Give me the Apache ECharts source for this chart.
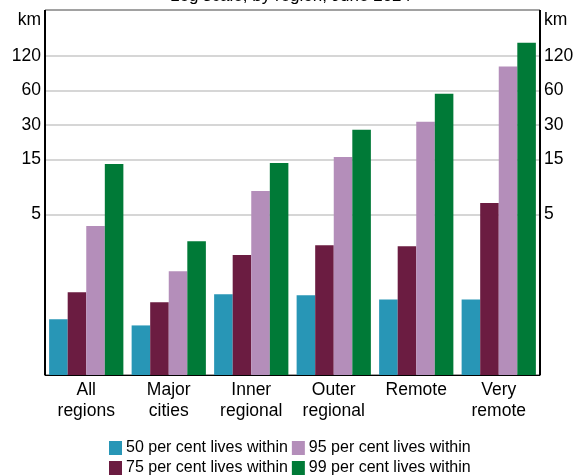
<!DOCTYPE html>
<html>
<head>
<meta charset="utf-8">
<script src="https://cdn.jsdelivr.net/npm/echarts@6/dist/echarts.min.js"></script>
<style>
  html, body { margin: 0; padding: 0; background: #fff; }
  #main { width: 581px; height: 475px; }
</style>
</head>
<body>
<div id="main"></div>
<script>
var regions = ["All\nregions", "Major\ncities", "Inner\nregional", "Outer\nregional", "Remote", "Very\nremote"];
var p50 = [0.61, 0.54, 1.01, 0.99, 0.91, 0.91];
var p75 = [1.05, 0.86, 2.21, 2.69, 2.64, 6.27];
var p95 = [3.95, 1.6, 7.98, 15.8, 31.9, 96.5];
var p99 = [13.7, 2.92, 14.0, 27.2, 56.1, 156];
var kmTicks = [5, 15, 30, 60, 120];

var font = "Arial, 'Liberation Sans', sans-serif";

var chart = echarts.init(document.getElementById("main"), null, { renderer: "canvas" });

function yAxis(pos) {
  return {
    type: "log",
    position: pos,
    min: 0.2,
    max: 300,
    startValue: 0.2,
    name: "km",
    nameLocation: "end",
    nameGap: -10,
    nameTextStyle: {
      color: "#000",
      fontSize: 17.5,
      fontFamily: font,
      align: pos === "left" ? "right" : "left",
      verticalAlign: "middle",
      padding: pos === "left" ? [0, 4, 0, 0] : [0, 0, 0, 4],
    },
    axisLine: { show: false },
    axisTick: { show: false, customValues: kmTicks },
    axisLabel: {
      customValues: kmTicks,
      color: "#000",
      fontSize: 17.5,
      fontFamily: font,
      margin: 4,
    },
    splitLine: {
      show: pos === "left",
      lineStyle: { color: "#c8c8c8", width: 1.5 },
    },
  };
}

function bar(name, data, color) {
  return {
    name: name,
    type: "bar",
    data: data,
    barGap: "0%",
    barCategoryGap: "10%",
    itemStyle: { color: color },
  };
}

var option = {
  animation: false,
  title: {
    text: "Log scale, by region, June 2024",
    left: "center",
    top: -17,
    textStyle: { color: "#000", fontSize: 17, fontWeight: "normal", fontFamily: font },
  },
  grid: {
    left: 45,
    right: 41,
    top: 10,
    bottom: 100,
    show: true,
    borderColor: "#444",
    borderWidth: 1,
    backgroundColor: "transparent",
  },
  legend: {
    left: 104,
    top: 435,
    width: 370,
    itemWidth: 13,
    itemHeight: 14,
    itemGap: 4,
    icon: "rect",
    data: ["50 per cent lives within", "95 per cent lives within", "75 per cent lives within", "99 per cent lives within"],
    textStyle: { color: "#000", fontSize: 16, fontFamily: font, lineHeight: 16, padding: [0, 0, 0, -1] },
  },
  xAxis: {
    type: "category",
    data: regions,
    axisLine: { lineStyle: { color: "#000", width: 1 } },
    axisTick: { inside: true, length: 7, lineStyle: { color: "#999", width: 1.5 } },
    axisLabel: {
      color: "#000",
      fontSize: 17.5,
      fontFamily: font,
      lineHeight: 21.5,
      margin: 4,
    },
    splitLine: {
      show: true,
      interval: function (index) { return index === 1; },
      lineStyle: { color: "#000", width: 2 },
    },
  },
  yAxis: [yAxis("left"), yAxis("right")],
  series: [
    bar("50 per cent lives within", p50, "#2896b6"),
    bar("75 per cent lives within", p75, "#6b1c41"),
    bar("95 per cent lives within", p95, "#b48eba"),
    bar("99 per cent lives within", p99, "#007a37"),
  ],
};

chart.setOption(option);
</script>
</body>
</html>
